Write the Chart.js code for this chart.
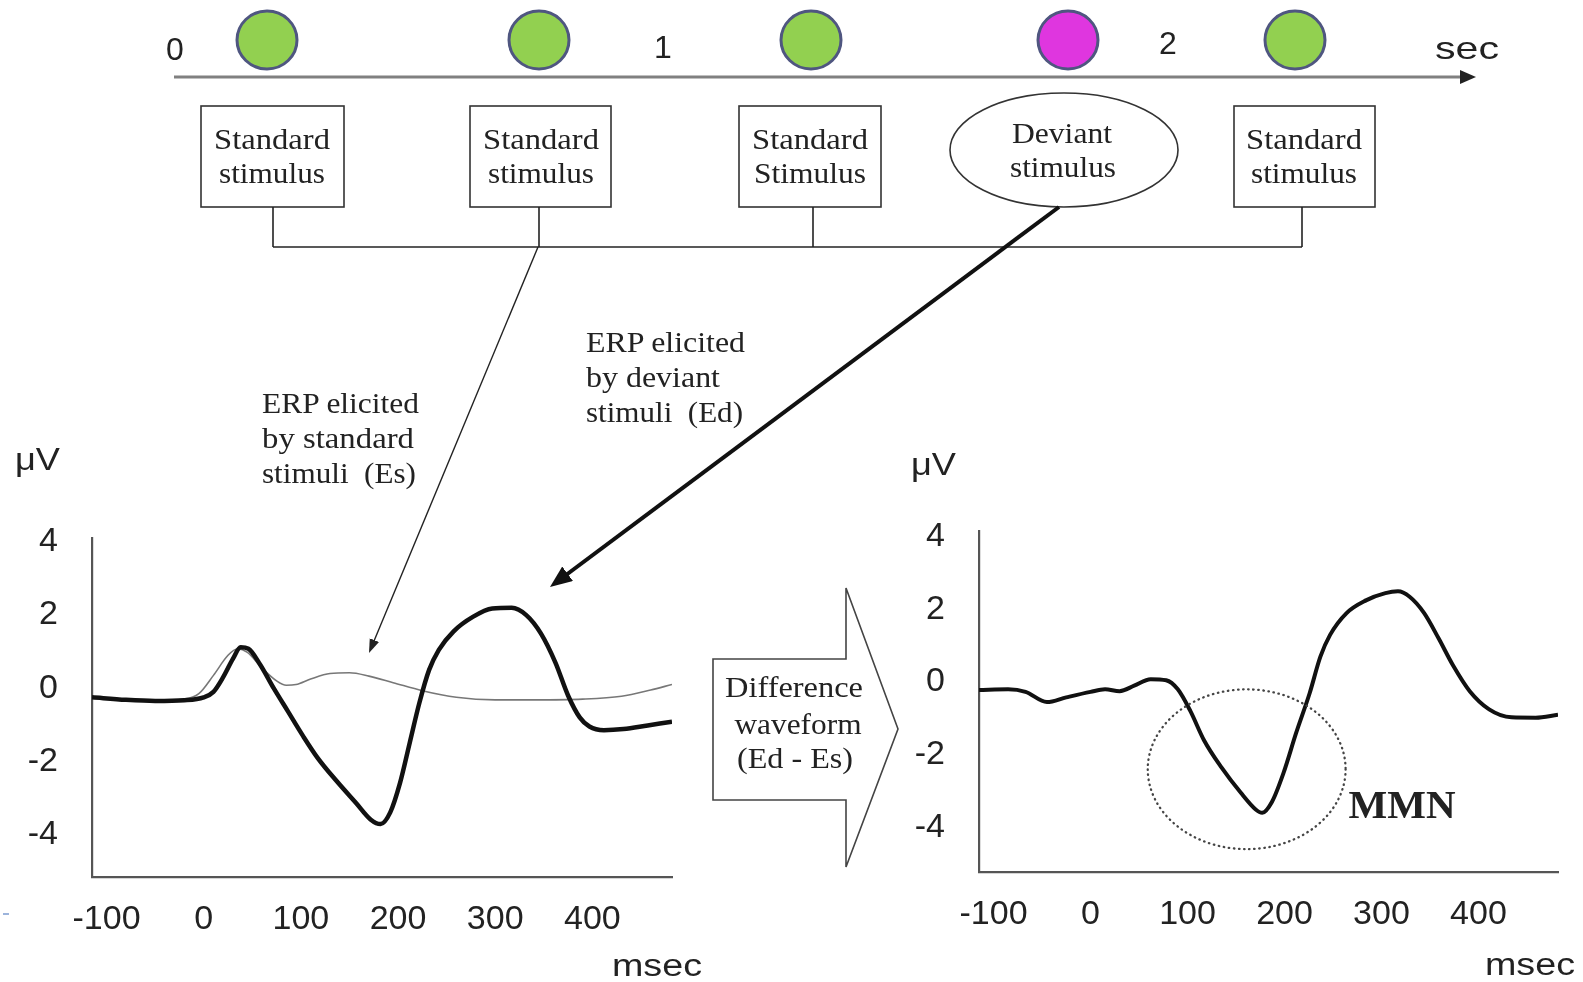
<!DOCTYPE html>
<html>
<head>
<meta charset="utf-8">
<script src="https://cdn.jsdelivr.net/npm/chart.js@4.4.1/dist/chart.umd.min.js"></script>
<style>
  body { margin: 0; background: #fff; }
  #page { position: relative; width: 1583px; height: 982px; overflow: hidden; background: #fff; }
  .holder { position: absolute; }
  #diagram { position: absolute; left: 0; top: 0; pointer-events: none; }
  .serif { font-family: "Liberation Serif", "Times New Roman", serif; fill: #222; }
  .sans { font-family: "Liberation Sans", Arial, sans-serif; fill: #222; }
</style>
</head>
<body>
<div id="page">
  <div class="holder" style="left:0;top:484px;width:710px;height:480px">
    <canvas id="erpChart" width="710" height="480"></canvas>
  </div>
  <div class="holder" style="left:890px;top:477px;width:693px;height:480px">
    <canvas id="mmnChart" width="693" height="480"></canvas>
  </div>

  <svg id="diagram" width="1583" height="982">
    <defs>
      <marker id="headThin" markerUnits="userSpaceOnUse" markerWidth="16" markerHeight="12" refX="8" refY="5" orient="auto">
        <path d="M0,0 L14,5 L0,10 z" fill="#222"/>
      </marker>
      <marker id="headThick" markerUnits="userSpaceOnUse" markerWidth="26" markerHeight="20" refX="12" refY="9" orient="auto">
        <path d="M0,0 L22,9 L0,18 z" fill="#111"/>
      </marker>
    </defs>

    <!-- time line -->
    <line x1="174" y1="77" x2="1462" y2="77" stroke="#808080" stroke-width="3"/>
    <path d="M1476,77 L1460,70 L1460,84 z" fill="#222"/>
    <text class="sans" x="175" y="60" font-size="32" text-anchor="middle">0</text>
    <text class="sans" x="663" y="58" font-size="32" text-anchor="middle">1</text>
    <text class="sans" x="1168" y="54" font-size="32" text-anchor="middle">2</text>
    <text class="sans" x="1467" y="59" font-size="32" text-anchor="middle" textLength="64" lengthAdjust="spacingAndGlyphs">sec</text>

    <!-- stimulus dots -->
    <ellipse cx="267" cy="40" rx="30" ry="29" fill="#92D050" stroke="#4F5680" stroke-width="3"/>
    <ellipse cx="539" cy="40" rx="30" ry="29" fill="#92D050" stroke="#4F5680" stroke-width="3"/>
    <ellipse cx="811" cy="40" rx="30" ry="29" fill="#92D050" stroke="#4F5680" stroke-width="3"/>
    <ellipse cx="1068" cy="40" rx="30" ry="29" fill="#DF36DF" stroke="#4F5680" stroke-width="3"/>
    <ellipse cx="1295" cy="40" rx="30" ry="29" fill="#92D050" stroke="#4F5680" stroke-width="3"/>

    <!-- stimulus boxes -->
    <g fill="#fff" stroke="#333" stroke-width="1.6">
      <rect x="201" y="106" width="143" height="101"/>
      <rect x="470" y="106" width="141" height="101"/>
      <rect x="739" y="106" width="142" height="101"/>
      <ellipse cx="1064" cy="150" rx="114" ry="57"/>
      <rect x="1234" y="106" width="141" height="101"/>
    </g>
    <g class="serif" font-size="29" text-anchor="middle">
      <text x="272" y="149" textLength="116" lengthAdjust="spacingAndGlyphs">Standard</text>
      <text x="272" y="183" textLength="106" lengthAdjust="spacingAndGlyphs">stimulus</text>
      <text x="541" y="149" textLength="116" lengthAdjust="spacingAndGlyphs">Standard</text>
      <text x="541" y="183" textLength="106" lengthAdjust="spacingAndGlyphs">stimulus</text>
      <text x="810" y="149" textLength="116" lengthAdjust="spacingAndGlyphs">Standard</text>
      <text x="810" y="183" textLength="112" lengthAdjust="spacingAndGlyphs">Stimulus</text>
      <text x="1062" y="143" textLength="100" lengthAdjust="spacingAndGlyphs">Deviant</text>
      <text x="1063" y="177" textLength="106" lengthAdjust="spacingAndGlyphs">stimulus</text>
      <text x="1304" y="149" textLength="116" lengthAdjust="spacingAndGlyphs">Standard</text>
      <text x="1304" y="183" textLength="106" lengthAdjust="spacingAndGlyphs">stimulus</text>
    </g>

    <!-- standard connectors -->
    <g stroke="#222" stroke-width="1.6" fill="none">
      <line x1="273" y1="207" x2="273" y2="247"/>
      <line x1="539" y1="207" x2="539" y2="247"/>
      <line x1="813" y1="207" x2="813" y2="247"/>
      <line x1="1302" y1="207" x2="1302" y2="247"/>
      <line x1="273" y1="247" x2="1302" y2="247"/>
    </g>

    <!-- arrows into the left plot -->
    <line x1="538" y1="247" x2="371.3" y2="647.5" stroke="#222" stroke-width="1.4" marker-end="url(#headThin)"/>
    <line x1="1059" y1="207" x2="558" y2="581" stroke="#111" stroke-width="4" marker-end="url(#headThick)"/>

    <g class="serif" font-size="29">
      <text x="262" y="413" textLength="157" lengthAdjust="spacingAndGlyphs">ERP elicited</text>
      <text x="262" y="448" textLength="152" lengthAdjust="spacingAndGlyphs">by standard</text>
      <text x="262" y="483" textLength="154" lengthAdjust="spacingAndGlyphs">stimuli&#160;&#160;(Es)</text>
      <text x="586" y="352" textLength="159" lengthAdjust="spacingAndGlyphs">ERP elicited</text>
      <text x="586" y="387" textLength="134" lengthAdjust="spacingAndGlyphs">by deviant</text>
      <text x="586" y="422" textLength="157" lengthAdjust="spacingAndGlyphs">stimuli&#160;&#160;(Ed)</text>
    </g>

    <!-- axis labels -->
    <g class="sans" font-size="31">
      <text x="15" y="470" textLength="45" lengthAdjust="spacingAndGlyphs">μV</text>
      <text x="911" y="475" textLength="45" lengthAdjust="spacingAndGlyphs">μV</text>
      <text x="612" y="976" textLength="90" lengthAdjust="spacingAndGlyphs">msec</text>
      <text x="1485" y="975" textLength="90" lengthAdjust="spacingAndGlyphs">msec</text>
    </g>

    <!-- difference block arrow -->
    <path d="M713,659 L846,659 L846,588 L898,729 L846,867 L846,800 L713,800 z" fill="#fff" stroke="#444" stroke-width="1.6"/>
    <g class="serif" font-size="29" text-anchor="middle">
      <text x="794" y="697" textLength="138" lengthAdjust="spacingAndGlyphs">Difference</text>
      <text x="798" y="734" textLength="127" lengthAdjust="spacingAndGlyphs">waveform</text>
      <text x="795" y="768" textLength="116" lengthAdjust="spacingAndGlyphs">(Ed - Es)</text>
    </g>

    <line x1="3" y1="914" x2="9" y2="914" stroke="#7b9bd0" stroke-width="1.5"/>
  </svg>
</div>

<script>
// ticks
const xTicks = [-100, 0, 100, 200, 300, 400];
const yTicks = [-4, -2, 0, 2, 4];

// ERP to standard stimuli (Es), thin grey line
const stdTimes = [-115, -80, -50, -20, -5, 10, 25, 35, 45, 60, 75, 85, 95, 110, 130, 150, 170, 195, 225, 260, 300, 340, 390, 430, 460, 482];
const stdValues = [-0.25, -0.32, -0.34, -0.3, -0.15, 0.35, 0.9, 1.08, 0.98, 0.55, 0.2, 0.08, 0.1, 0.25, 0.4, 0.42, 0.33, 0.15, -0.07, -0.25, -0.32, -0.32, -0.3, -0.22, -0.05, 0.1];

// ERP to deviant stimuli (Ed), thick black line
const devTimes = [-115, -80, -50, -20, 0, 10, 20, 30, 38, 46, 58, 72, 87, 102, 117, 137, 157, 172, 182, 192, 202, 212, 222, 232, 242, 257, 277, 297, 317, 332, 347, 362, 375, 387, 397, 412, 432, 457, 482];
const devValues = [-0.25, -0.32, -0.35, -0.33, -0.25, -0.1, 0.3, 0.8, 1.12, 1.08, 0.65, 0.0, -0.65, -1.3, -1.9, -2.55, -3.15, -3.6, -3.72, -3.4, -2.6, -1.5, -0.4, 0.5, 1.05, 1.55, 1.95, 2.18, 2.2, 2.0, 1.5, 0.7, -0.2, -0.8, -1.05, -1.15, -1.12, -1.02, -0.92];

// difference waveform (Ed - Es)
const diffTimes = [-115, -85, -67, -45, -25, 0, 15, 30, 45, 62, 78, 90, 103, 117, 135, 155, 170, 177, 187, 199, 212, 226, 237, 247, 264, 284, 304, 317, 329, 344, 359, 374, 391, 411, 434, 459, 482];
const diffValues = [-0.22, -0.2, -0.27, -0.55, -0.42, -0.27, -0.2, -0.25, -0.1, 0.08, 0.05, -0.2, -0.8, -1.6, -2.35, -3.05, -3.5, -3.6, -3.3, -2.5, -1.4, -0.3, 0.7, 1.3, 1.9, 2.25, 2.45, 2.5, 2.35, 1.9, 1.2, 0.45, -0.25, -0.75, -0.97, -0.98, -0.9];

// MMN annotation: circle centre (ms, uV), radii (ms, uV), label anchor
const mmnCenter = [161, -2.4];
const mmnRadius = [102, 2.2];
const mmnLabelAt = [266, -3.73];

const tickFont = { family: '"Liberation Sans", Arial, sans-serif', size: 34 };

function points(times, values) {
  return times.map((t, i) => ({ x: t, y: values[i] }));
}

function makeOptions(yWidth, xHeight, padding, yMin, yMax) {
  return {
    responsive: false,
    animation: false,
    layout: { padding: padding },
    plugins: { legend: { display: false }, tooltip: { enabled: false } },
    elements: {
      point: { radius: 0 },
      line: { cubicInterpolationMode: 'monotone' }
    },
    scales: {
      x: {
        type: 'linear',
        min: -115,
        max: 482,
        afterBuildTicks: s => { s.ticks = xTicks.map(v => ({ value: v })); },
        afterFit: s => { s.height = xHeight; },
        grid: { display: true, drawOnChartArea: false, drawTicks: false },
        border: { display: true, color: '#555', width: 2.2 },
        ticks: { font: tickFont, color: '#222', padding: 22, maxRotation: 0, callback: v => String(v) }
      },
      y: {
        type: 'linear',
        min: yMin,
        max: yMax,
        afterBuildTicks: s => { s.ticks = yTicks.map(v => ({ value: v })); },
        afterFit: s => { s.width = yWidth; },
        grid: { display: true, drawOnChartArea: false, drawTicks: false },
        border: { display: true, color: '#555', width: 2.2 },
        ticks: { font: tickFont, color: '#222', padding: 34, callback: v => String(v) }
      }
    }
  };
}

const mmnMarker = {
  id: 'mmnMarker',
  afterDatasetsDraw(chart) {
    const { ctx, scales: { x, y } } = chart;
    const cx = x.getPixelForValue(mmnCenter[0]);
    const cy = y.getPixelForValue(mmnCenter[1]);
    const rx = Math.abs(x.getPixelForValue(mmnCenter[0] + mmnRadius[0]) - cx);
    const ry = Math.abs(y.getPixelForValue(mmnCenter[1] + mmnRadius[1]) - cy);
    ctx.save();
    ctx.setLineDash([0.5, 4.6]);
    ctx.lineCap = 'round';
    ctx.lineWidth = 2.3;
    ctx.strokeStyle = '#444';
    ctx.beginPath();
    ctx.ellipse(cx, cy, rx, ry, 0, 0, Math.PI * 2);
    ctx.stroke();
    ctx.setLineDash([]);
    ctx.font = 'bold 41px "Liberation Serif", "Times New Roman", serif';
    ctx.fillStyle = '#222';
    ctx.textBaseline = 'alphabetic';
    ctx.fillText('MMN', x.getPixelForValue(mmnLabelAt[0]), y.getPixelForValue(mmnLabelAt[1]));
    ctx.restore();
  }
};

new Chart(document.getElementById('erpChart'), {
  type: 'line',
  data: {
    datasets: [
      { label: 'Ed', data: points(devTimes, devValues), borderColor: '#111', borderWidth: 4.5, order: 0 },
      { label: 'Es', data: points(stdTimes, stdValues), borderColor: '#777', borderWidth: 1.6, order: 1 }
    ]
  },
  options: makeOptions(92, 87, { left: 0, top: 40, right: 38, bottom: 0 }, -5.17, 4.1)
});

new Chart(document.getElementById('mmnChart'), {
  type: 'line',
  data: {
    datasets: [
      { label: 'Ed - Es', data: points(diffTimes, diffValues), borderColor: '#111', borderWidth: 4 }
    ]
  },
  options: makeOptions(89, 85, { left: 0, top: 42, right: 25, bottom: 0 }, -5.23, 4.15),
  plugins: [mmnMarker]
});
</script>
</body>
</html>
